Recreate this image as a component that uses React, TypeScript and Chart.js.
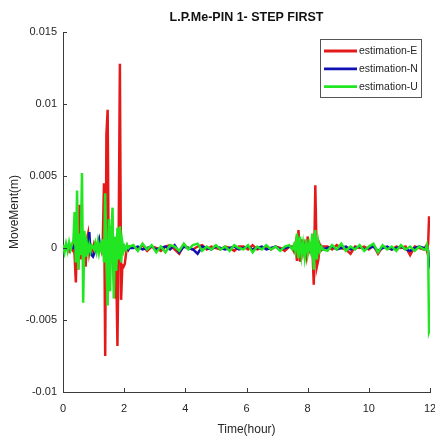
import React, { useEffect, useRef } from "react";
import { Chart, registerables } from "chart.js";

Chart.register(...registerables);

// Sample times (hours)
const timeHours: number[] = [
  0, 0.05, 0.1, 0.15, 0.2, 0.25, 0.3,
  0.34, 0.38, 0.42, 0.46, 0.5, 0.54, 0.58, 0.62, 0.66, 0.7, 0.74, 0.78, 0.82, 0.86, 0.9, 0.94,
  0.98, 1.02, 1.06, 1.1, 1.14, 1.18, 1.22, 1.26, 1.3, 1.34, 1.38, 1.42, 1.46, 1.5, 1.54, 1.58,
  1.62, 1.66, 1.7, 1.74, 1.78, 1.82, 1.86, 1.9, 1.94, 1.98, 2.02, 2.06, 2.1, 2.14, 2.18,
  2.3, 2.45, 2.6, 2.75, 2.9, 3.05, 3.2, 3.35, 3.5, 3.65, 3.8, 3.95, 4.1, 4.25, 4.4, 4.55, 4.7,
  4.85, 5.0, 5.15, 5.3, 5.45, 5.6, 5.75, 5.9, 6.05, 6.2, 6.35, 6.5, 6.65, 6.8, 6.95, 7.1, 7.25, 7.4,
  7.5, 7.55, 7.6, 7.65, 7.7, 7.75, 7.8, 7.85, 7.9, 7.95, 8.0, 8.05, 8.1, 8.15, 8.2, 8.25, 8.3,
  8.35, 8.4, 8.45, 8.5,
  8.65, 8.8, 8.95, 9.1, 9.25, 9.4, 9.55, 9.7, 9.85, 10.0, 10.15, 10.3, 10.45, 10.6, 10.75, 10.9,
  11.05, 11.2, 11.35, 11.5, 11.65, 11.8,
  11.86, 11.9, 11.94, 11.97, 12.0,
];

// Movement values in millimetres
const estimationE_mm: number[] = [
  0.1, -0.1, 0.2, 0.0, -0.2, 0.1, -0.1,
  0.2, -0.5, -2.4, 1.0, -1.5, 3.0, -0.8, 0.5, -0.6, 0.4, -1.3, 0.6, 1.0, -0.3, 0.2, 0.1,
  -0.2, 0.3, 0.1, -0.1, 0.2, -0.1, 0.1, -0.2, 0.4, 4.5, -7.5, 7.9, 9.6, -3.0, 1.5, -1.0,
  0.8, -2.0, -3.5, -1.2, -6.8, 0.5, 12.8, -3.6, -1.2, -1.3, -1.1, -0.4, 0.1, -0.1, 0.1,
  0.1, -0.1, 0.2, -0.2, 0.1, 0.0, -0.2, 0.1, 0.2, -0.1, -0.4, 0.2, 0.0, -0.1, 0.1, 0.2, -0.1,
  0.1, 0.0, -0.1, 0.1, 0.0, -0.2, 0.1, 0.1, -0.1, 0.2, -0.1, 0.0, 0.1, -0.1, 0.1, 0.0, -0.2, 0.1,
  0.1, -0.2, 0.3, -0.9, 1.25, -0.95, 0.6, -0.3, 0.2, -0.5, 0.8, -0.2, 0.1, 0.3, -2.55, 4.35, -1.3,
  -0.8, 0.2, -0.1, 0.1,
  0.1, -0.1, 0.2, 0.0, -0.1, -0.4, 0.1, 0.0, 0.1, -0.1, 0.2, -0.4, 0.1, 0.0, -0.1, 0.1,
  0.0, 0.1, -0.5, 0.1, 0.0, -0.1,
  0.1, -0.2, 0.3, 2.2, 1.5,
];

const estimationN_mm: number[] = [
  0.1, 0.0, 0.1, -0.1, 0.0, 0.1, 0.0,
  0.1, 0.0, -0.2, 0.3, -0.3, 0.2, 0.0, -0.1, 0.2, 0.1, -0.2, 0.3, 0.2, 1.1, -0.3, -0.5,
  -0.6, -0.4, 0.1, 0.0, 0.3, 0.6, 0.0, -0.1, 0.1, -0.2, 0.2, -0.2, 0.1, -0.1, 0.2, 0.0,
  -0.2, 0.1, -0.1, 0.2, 0.1, -0.2, 0.1, 0.0, -0.1, 0.1, -0.1, 0.0, 0.1, -0.1, 0.0,
  0.0, 0.1, -0.1, 0.0, 0.1, -0.1, 0.0, 0.1, -0.1, 0.2, -0.3, 0.1, 0.0, -0.1, -0.4, 0.1, 0.0,
  -0.1, 0.1, 0.0, -0.1, 0.0, 0.1, -0.1, 0.0, 0.1, -0.1, 0.0, 0.1, -0.1, 0.0, 0.1, -0.1, 0.0, 0.1,
  0.0, 0.1, -0.1, 0.1, -0.2, 0.1, -0.1, 0.1, 0.0, 0.1, -0.1, 0.1, -0.1, 0.1, -0.2, 0.1, -0.1,
  0.1, 0.0, 0.1, -0.1,
  0.0, 0.1, -0.1, 0.0, 0.1, -0.1, 0.0, 0.1, -0.1, 0.0, 0.1, -0.2, 0.0, 0.1, -0.1, 0.0,
  0.1, -0.1, -0.2, 0.0, 0.1, 0.0,
  0.0, 0.1, -0.2, -1.2, -1.0,
];

const estimationU_mm: number[] = [
  0.2, -0.3, 0.3, -0.2, 0.4, -0.1, 0.3,
  0.5, 2.5, -1.0, 4.0, -1.5, 1.0, -0.5, 5.2, -3.8, 1.2, -0.6, 0.3, -0.3, 0.2, -0.2, 0.2,
  0.1, -0.1, 0.3, -0.2, 0.4, -0.3, 0.2, -0.1, 0.6, -1.0, 3.8, -1.2, -4.0, 2.0, -3.0, 1.0,
  2.8, -3.5, 0.8, -1.6, 1.4, -0.8, 1.5, -1.0, 0.4, -0.2, 0.1, -0.1, 0.2, 0.0, 0.1,
  0.2, -0.2, 0.3, -0.1, 0.2, -0.3, 0.1, -0.3, 0.2, 0.1, -0.2, 0.3, -0.1, 0.2, 0.3, -0.2, 0.1,
  -0.1, 0.2, -0.1, 0.1, -0.2, 0.2, 0.0, -0.1, 0.2, -0.3, 0.1, -0.1, 0.2, -0.1, 0.1, -0.2, 0.1, 0.2,
  -0.1, 0.2, -0.2, 1.0, -0.7, 0.8, -0.5, 0.3, -0.6, 0.6, -0.4, 0.3, -0.2, 1.0, -1.5, 1.25, -0.8,
  0.4, -0.2, 0.1, -0.1,
  -0.2, 0.2, -0.1, 0.3, -0.2, 0.1, -0.1, 0.2, -0.2, 0.1, 0.3, -0.3, 0.2, -0.1, 0.1, -0.2,
  0.2, -0.1, 0.1, -0.2, 0.1, -0.1,
  -0.1, 0.2, -0.3, -5.8, -5.6,
];

const seriesLabels = ["estimation-E", "estimation-N", "estimation-U"];
const seriesColors = ["#e41a1a", "#1010b4", "#22e622"];
const chartTitle = "L.P.Me-PIN 1- STEP FIRST";
const xAxisTitle = "Time(hour)";
const yAxisTitle = "MoveMent(m)";

const FONT = '"Liberation Sans", Arial, Helvetica, sans-serif';
const TEXT = "#262626";
const AXIS = "#3a3a3a";

const toPoints = (vals: number[]) =>
  timeHours.map((t, i) => ({ x: t, y: vals[i] / 1000 }));

const decoPlugin = {
  id: "deco",
  afterDatasetsDraw(chart: any) {
    const { ctx, chartArea: ca, scales } = chart;
    const xs = scales.x;
    const ys = scales.y;
    ctx.save();
    // inward ticks
    ctx.strokeStyle = AXIS;
    ctx.lineWidth = 1;
    ctx.beginPath();
    xs.ticks.forEach((t: any) => {
      const px = Math.round(xs.getPixelForValue(t.value)) + 0.5;
      ctx.moveTo(px, ca.bottom);
      ctx.lineTo(px, ca.bottom - 4);
    });
    ys.ticks.forEach((t: any) => {
      const py = Math.round(ys.getPixelForValue(t.value)) + 0.5;
      ctx.moveTo(ca.left, py);
      ctx.lineTo(ca.left + 4, py);
    });
    ctx.stroke();

    // title
    ctx.fillStyle = "#111";
    ctx.font = `bold 12.5px ${FONT}`;
    ctx.textAlign = "center";
    ctx.textBaseline = "middle";
    ctx.fillText(chartTitle, (ca.left + ca.right) / 2, 17.5);

    // legend
    const bx = ca.right - 110;
    const by = 39.5;
    const bw = 101;
    const bh = 58;
    ctx.fillStyle = "#fff";
    ctx.fillRect(bx, by, bw, bh);
    ctx.strokeStyle = "#555";
    ctx.lineWidth = 1;
    ctx.strokeRect(bx + 0.5, by, bw, bh);
    ctx.font = `10.5px ${FONT}`;
    ctx.textAlign = "left";
    ctx.textBaseline = "middle";
    seriesLabels.forEach((lab, i) => {
      const y = by + 11.5 + i * 17.8;
      ctx.strokeStyle = seriesColors[i];
      ctx.lineWidth = 2.8;
      ctx.beginPath();
      ctx.moveTo(bx + 4, y);
      ctx.lineTo(bx + 37, y);
      ctx.stroke();
      ctx.fillStyle = TEXT;
      ctx.fillText(lab, bx + 39, y + 0.5);
    });
    ctx.restore();
  },
};

export default function App() {
  const ref = useRef<HTMLCanvasElement | null>(null);
  useEffect(() => {
    if (!ref.current) return;
    const allVals = [estimationE_mm, estimationN_mm, estimationU_mm];
    const chart = new Chart(ref.current, {
      type: "line",
      data: {
        datasets: allVals.map((vals, i) => ({
          label: seriesLabels[i],
          data: toPoints(vals),
          borderColor: seriesColors[i],
          backgroundColor: seriesColors[i],
          borderWidth: 2.5,
          pointRadius: 0,
          tension: 0,
          fill: false,
          order: 2 - i,
        })),
      },
      options: {
        animation: false,
        responsive: false,
        devicePixelRatio: 1,
        layout: { padding: { top: 32, right: 5, bottom: 0, left: 0 } },
        plugins: {
          legend: { display: false },
          title: { display: false },
          tooltip: { enabled: false },
        },
        scales: {
          x: {
            type: "linear",
            min: 0,
            max: 12,
            ticks: {
              stepSize: 2,
              padding: 10,
              color: TEXT,
              font: { family: FONT, size: 11 },
              maxRotation: 0,
              autoSkip: false,
            },
            grid: { display: false, drawTicks: false },
            border: { display: true, color: AXIS, width: 1 },
            title: {
              display: true,
              text: xAxisTitle,
              color: TEXT,
              font: { family: FONT, size: 12 },
              padding: { top: 0, bottom: 0 },
            },
            afterFit(scale: any) {
              scale.height = 45;
              scale.paddingLeft = 0;
              scale.paddingRight = 0;
            },
          },
          y: {
            type: "linear",
            min: -0.01,
            max: 0.015,
            ticks: {
              stepSize: 0.005,
              padding: 6,
              color: TEXT,
              font: { family: FONT, size: 11 },
              callback: (v: any) => String(Number(Number(v).toFixed(3))),
            },
            grid: { display: false, drawTicks: false },
            border: { display: true, color: AXIS, width: 1 },
            title: {
              display: true,
              text: yAxisTitle,
              color: TEXT,
              font: { family: FONT, size: 12 },
              padding: { top: 7, bottom: 0 },
            },
            afterFit(scale: any) {
              scale.width = 63;
              scale.paddingTop = 0;
              scale.paddingBottom = 0;
            },
          },
        },
      },
      plugins: [decoPlugin],
    });
    return () => chart.destroy();
  }, []);
  return (
    <div style={{ position: "absolute", left: 0, top: 0, width: 435, height: 437, background: "#fff" }}>
      <canvas ref={ref} width={435} height={437} />
    </div>
  );
}
